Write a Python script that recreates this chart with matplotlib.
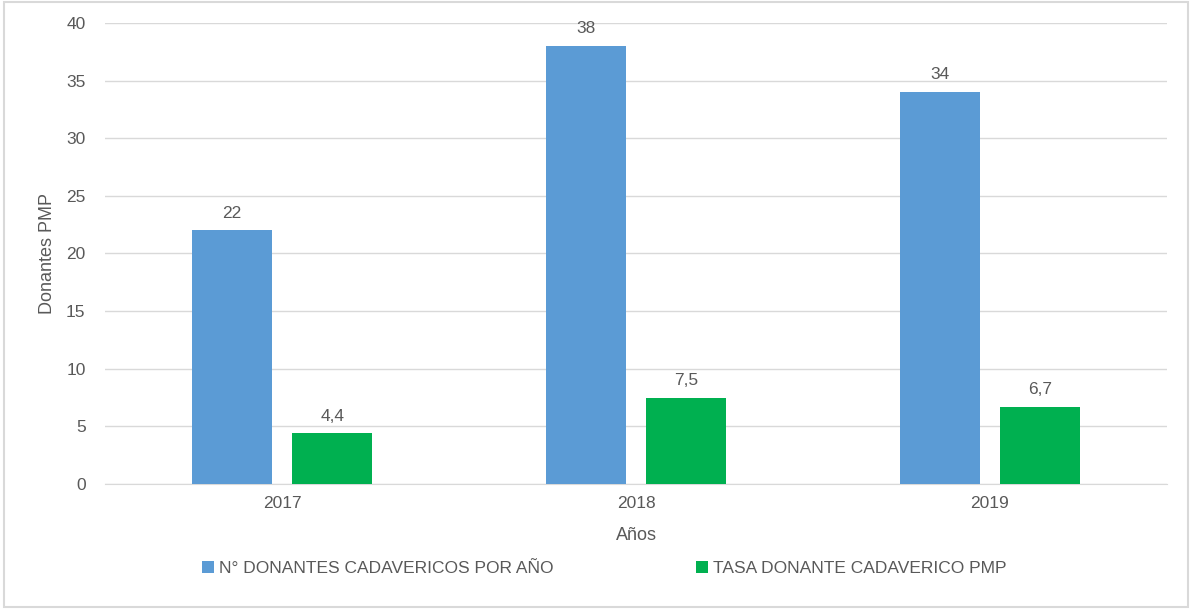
import numpy as np
import matplotlib.pyplot as plt
from matplotlib.patches import Rectangle

years = ["2017", "2018", "2019"]
donantes = [22, 38, 34]
tasa = [4.4, 7.5, 6.7]
etiquetas_tasa = ["4,4", "7,5", "6,7"]

azul = "#5b9bd5"
verde = "#00b050"
gris = "#595959"

plt.rcParams['font.family'] = ['Liberation Sans', 'DejaVu Sans']

fig = plt.figure(figsize=(11.92, 6.09), dpi=100)
ax = fig.add_axes([0.0881, 0.2053, 0.8909, 0.7569])

x = np.arange(len(years))
w = 0.226
off = 0.1425
b1 = ax.bar(x - off, donantes, w, color=azul, label="N° DONANTES CADAVERICOS POR AÑO", zorder=3)
b2 = ax.bar(x + off, tasa, w, color=verde, label="TASA DONANTE CADAVERICO PMP", zorder=3)

for rect, v in zip(b1, donantes):
    ax.annotate(str(v), (rect.get_x() + rect.get_width() / 2, v), xytext=(0, 7),
                textcoords="offset points", ha="center", va="bottom", fontsize=12.5, color=gris)
for rect, v, s in zip(b2, tasa, etiquetas_tasa):
    ax.annotate(s, (rect.get_x() + rect.get_width() / 2, v), xytext=(0, 7),
                textcoords="offset points", ha="center", va="bottom", fontsize=12.5, color=gris)

ax.set_xlim(-0.5, 2.5)
ax.set_ylim(0, 40)
ax.set_yticks(range(0, 41, 5))
ax.set_xticks(x)
ax.set_xticklabels(years)
ax.tick_params(length=0, labelsize=12.5, colors=gris, pad=9)
ax.tick_params(axis='y', pad=14)
ax.grid(axis='y', color="#d9d9d9", linewidth=1, zorder=0)
for s in ["top", "right", "left"]:
    ax.spines[s].set_visible(False)
ax.spines["bottom"].set_color("#d9d9d9")
ax.set_xlabel("Años", fontsize=13, color=gris, labelpad=11)
ax.set_ylabel("Donantes PMP", fontsize=13, color=gris, labelpad=7)

fig.legend(handles=[b1, b2], loc="center", bbox_to_anchor=(0.507, 0.067), ncol=2,
           frameon=False, fontsize=12.5, labelcolor=gris, handlelength=0.7,
           handleheight=0.7, handletextpad=0.3, columnspacing=8.2)

fig.patches.append(Rectangle((0.003, 0.003), 0.994, 0.994, transform=fig.transFigure,
                             fill=False, edgecolor="#d9d9d9", linewidth=1.5))

fig.savefig("out.png", dpi=100)
